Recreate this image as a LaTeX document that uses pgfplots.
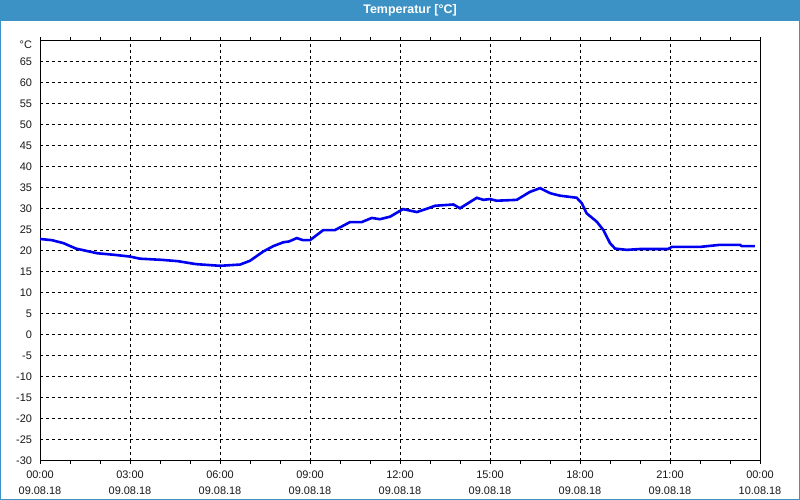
\documentclass[border=0pt]{standalone}
\usepackage{fontspec}
\setmainfont{Liberation Sans}
\usepackage{pgfplots}
\pgfplotsset{compat=1.18}
\definecolor{barblue}{HTML}{3C92C4}
\definecolor{lineblue}{HTML}{0000F0}
\begin{document}
\begin{tikzpicture}[x=1bp,y=1bp]
\useasboundingbox (0,0) rectangle (800,500);
\fill[white] (0,0) rectangle (800,500);
\fill[barblue] (0,479.3) rectangle (800,500);
\draw[barblue, line width=1.2bp] (0.6,479.3) -- (0.6,0.6) -- (799.4,0.6) -- (799.4,479.3);
\node[white, font=\fontsize{12.5}{14}\selectfont\bfseries] at (410,489.5) {Temperatur [°C]};
\begin{axis}[
  at={(40bp,39.3bp)}, anchor=south west,
  width=720bp, height=420bp, scale only axis,
  xmin=0, xmax=24, ymin=-30, ymax=70,
  axis line style={black, line width=1bp},
  xtick={0,3,...,24},
  minor xtick={1,2,4,5,7,8,10,11,13,14,16,17,19,20,22,23},
  xticklabels={{00:00\\09.08.18},{03:00\\09.08.18},{06:00\\09.08.18},{09:00\\09.08.18},{12:00\\09.08.18},{15:00\\09.08.18},{18:00\\09.08.18},{21:00\\09.08.18},{00:00\\10.08.18}},
  xticklabel style={align=center, font=\fontsize{11}{16.5}\selectfont, text=black!90},
  ytick={-30,-25,...,65},
  yticklabel style={font=\fontsize{11}{13}\selectfont, text=black!90},
  extra y ticks={70},
  extra y tick labels={°C},
  extra y tick style={grid=none, yticklabel style={yshift=-4bp}},
  /pgf/number format/assume math mode=true,
  grid=major,
  major grid style={black, line width=0.9bp, dash pattern=on 3bp off 3bp},
  tick align=outside,
  major tick length=3.5bp, minor tick length=3.5bp,
  xtick style={black, line width=0.9bp},
  ytick style={draw=none},
  xticklabel shift=3bp,
  yticklabel shift=1bp,
]
\addplot[lineblue, line width=2.6bp, sharp plot, mark=none] coordinates {
(0,22.8) (0.4,22.5) (0.78,21.8) (1.2,20.5) (1.9,19.4) (2.5,19.0) (3.0,18.6)
(3.33,18.1) (4.1,17.8) (4.6,17.5) (5.2,16.8) (5.8,16.5) (6.0,16.4) (6.67,16.7)
(7.0,17.6) (7.44,19.8) (7.78,21.1) (8.11,22.0) (8.3,22.2) (8.56,23.0) (8.77,22.5)
(9.0,22.5) (9.44,24.9) (9.83,24.9) (10.33,26.8) (10.72,26.8) (11.06,27.8)
(11.33,27.5) (11.67,28.1) (12.1,29.9) (12.56,29.2) (12.9,30.0) (13.17,30.7)
(13.78,31.0) (14.0,30.1) (14.56,32.6) (14.78,32.1) (15.0,32.3) (15.22,31.9)
(15.89,32.1) (16.33,34.0) (16.67,34.9) (17.0,33.7) (17.33,33.1) (17.89,32.6)
(18.06,31.3) (18.22,28.9) (18.56,26.9) (18.78,24.9) (19.0,21.8) (19.17,20.5)
(19.56,20.2) (20.0,20.4) (20.94,20.4) (21.06,20.9) (22.0,20.9) (22.67,21.4)
(23.33,21.4) (23.39,21.1) (23.83,21.1)
};
\end{axis}
\end{tikzpicture}
\end{document}
